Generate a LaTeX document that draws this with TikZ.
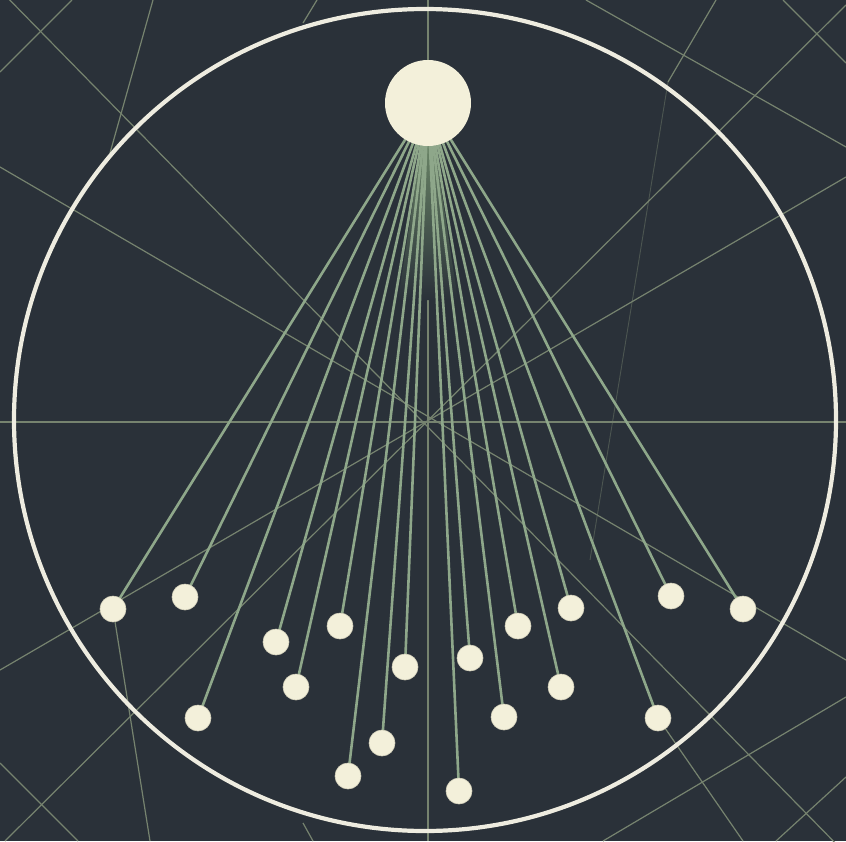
\documentclass[tikz,border=0pt]{standalone}
\definecolor{bgc}{HTML}{2A3139}
\definecolor{gridc}{HTML}{76836F}
\definecolor{rayc}{HTML}{8EA78A}
\definecolor{cream}{HTML}{F3F0DA}
\definecolor{ringc}{HTML}{EEECE0}
\definecolor{glowc}{HTML}{7A9A72}
\definecolor{dotedge}{HTML}{D6D3BD}
\pgfdeclarelayer{paper}
\pgfdeclarelayer{gridlayer}
\pgfdeclarelayer{raylayer}
\pgfsetlayers{paper,gridlayer,raylayer,main}
\begin{document}
\begin{tikzpicture}[x=1pt,y=-1pt,
  gridline/.style={draw=gridc, line width=1.2pt},
  faintline/.style={draw=gridc, line width=0.9pt, opacity=0.45},
  ray/.style={draw=rayc, line width=2.6pt},
  bead/.style={circle, fill=cream, draw=dotedge, line width=0.6pt, minimum size=26pt, inner sep=0pt},
  source/.style={circle, fill=cream, minimum size=86pt, inner sep=0pt}]
\useasboundingbox (0,0) rectangle (846,841);
\begin{pgfonlayer}{paper}
\fill[bgc] (0,0) rectangle (846,841);
\end{pgfonlayer}

% source and beads
\node[source] (src) at (428,103) {};
\node[bead] (d1)  at (113,609) {};
\node[bead] (d2)  at (185,597) {};
\node[bead] (d3)  at (276,642) {};
\node[bead] (d4)  at (340,626) {};
\node[bead] (d5)  at (296,687) {};
\node[bead] (d6)  at (198,718) {};
\node[bead] (d7)  at (382,743) {};
\node[bead] (d8)  at (348,776) {};
\node[bead] (d9)  at (405,667) {};
\node[bead] (d10) at (470,658) {};
\node[bead] (d11) at (518,626) {};
\node[bead] (d12) at (571,608) {};
\node[bead] (d13) at (504,717) {};
\node[bead] (d14) at (561,687) {};
\node[bead] (d15) at (459,791) {};
\node[bead] (d16) at (658,718) {};
\node[bead] (d17) at (671,596) {};
\node[bead] (d18) at (743,609) {};

% background geometry
\begin{pgfonlayer}{gridlayer}
\begin{scope}
\clip (0,0) rectangle (846,841);
\draw[gridline] (428,0) -- (428,841);
\draw[gridline] (0,422) -- (846,422);
\draw[gridline] (0,-10) -- (846,854);
\draw[gridline] (0,167) -- (846,660);
\draw[gridline] (72,0) -- (0,72);
\draw[gridline] (846,5) -- (5,841);
\draw[gridline] (846,177) -- (0,670);
\draw[gridline] (586,0) -- (846,147);
\draw[gridline] (783,0) -- (846,63);
\draw[gridline] (716,0) -- (668,82);
\draw[faintline] (668,82) -- (590,560);
\draw[gridline] (153,0) -- (110,153);
\draw[gridline] (317,0) -- (303,23);
\draw[gridline] (d1) -- (150,841);
\draw[gridline] (0,763) -- (78,841);
\draw[gridline] (d16) -- (743,841);
\draw[gridline] (603,841) -- (846,697);
\draw[gridline] (776,841) -- (846,777);
\draw[gridline] (303,823) -- (313,841);
\end{scope}
\end{pgfonlayer}

% rays
\begin{pgfonlayer}{raylayer}
\shade[top color=glowc, bottom color=bgc] (src.center) -- (398,300) -- (458,300) -- cycle;
\foreach \i in {1,...,18} {
  \draw[ray] (src.center) -- (d\i.center);
}
\end{pgfonlayer}

% ring
\draw[ringc, line width=4.2pt] (425,420) circle[radius=411pt];
\end{tikzpicture}
\end{document}
